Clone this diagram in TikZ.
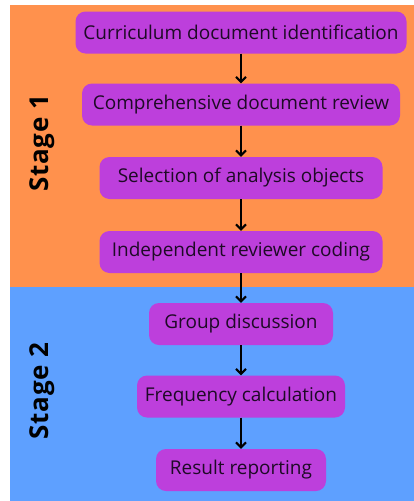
\documentclass[tikz,border=0pt]{standalone}
\usepackage{fontspec}
\setmainfont{Open Sans}
\newfontfamily\stagefont[LetterSpace=3]{Open Sans}
\usetikzlibrary{arrows.meta}
\definecolor{stageone}{HTML}{FF914D}
\definecolor{stagetwo}{HTML}{5EA0FF}
\definecolor{boxfill}{HTML}{BD3FDC}
\definecolor{boxtext}{HTML}{1E0A26}
\begin{document}
\begin{tikzpicture}[x=1pt,y=-1pt,
		box/.style={fill=boxfill,rounded corners=10pt,minimum height=42pt,inner xsep=0pt,text=boxtext,font=\fontsize{19}{23}\selectfont},
		stage/.style={rotate=90,text=black,font=\stagefont\fontsize{26}{31}\selectfont\bfseries},
		arr/.style={-{Straight Barb[length=5pt,width=10pt]},line width=2pt}]
				\useasboundingbox (0,0) rectangle (414,501);
				\fill[white] (0,0) rectangle (414,501);
				\fill[stageone] (10,5) rectangle (414,287);
				\fill[stagetwo] (10,287) rectangle (414,501);
				\node[stage] (S1) at (42.5,143.5) {Stage 1};
				\node[stage] (S2) at (42.5,391) {Stage 2};
				\node[box,minimum width=331pt] (A) at (241,32.5) {Curriculum document identification};
				\node[box,minimum width=318pt] (B) at (241,104.5) {Comprehensive document review};
				\node[box,minimum width=283pt] (C) at (241,178) {Selection of analysis objects};
				\node[box,minimum width=283pt] (D) at (241,252) {Independent reviewer coding};
				\node[box,minimum width=184pt] (E) at (241,324) {Group discussion};
				\node[box,minimum width=208pt] (F) at (241,396.5) {Frequency calculation};
				\node[box,minimum width=170pt] (G) at (241,470) {Result reporting};
				\draw[arr] (A) -- (B);
				\draw[arr] (B) -- (C);
				\draw[arr] (C) -- (D);
				\draw[arr] (D) -- (E);
				\draw[arr] (E) -- (F);
				\draw[arr] (F) -- (G);
			\end{tikzpicture}
\end{document}
